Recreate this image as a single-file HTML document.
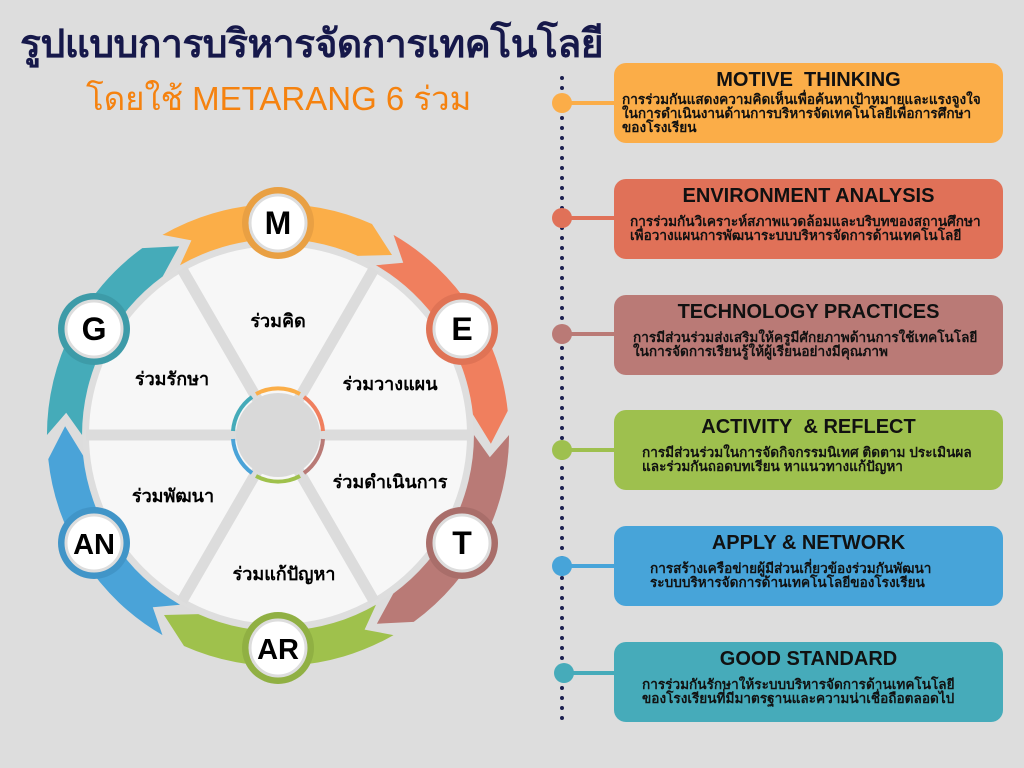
<!DOCTYPE html>
<html><head><meta charset="utf-8"><style>
body{margin:0;width:1024px;height:768px;background:#dddddd;overflow:hidden;font-family:"Liberation Sans","Noto Sans CJK SC",sans-serif;}
.t1{position:absolute;left:20px;top:13px;font-size:39px;font-weight:bold;color:#16184a;white-space:nowrap;letter-spacing:-0.5px}
.t2{position:absolute;left:86px;top:72px;font-size:33px;color:#f5820f;white-space:nowrap;}
.box{position:absolute;left:614px;width:389px;height:80px;border-radius:12px;color:#111;}
.box h3{margin:0;text-align:center;font-size:20px;font-weight:bold;padding-top:6px;line-height:22px}
.box p{margin:2px 0 0 0;font-size:13.6px;font-weight:bold;line-height:14px;white-space:nowrap}
</style></head><body>
<div class="t1">รูปแบบการบริหารจัดการเทคโนโลยี</div>
<div class="t2">โดยใช้ METARANG 6 ร่วม</div>
<svg width="1024" height="768" style="position:absolute;left:0;top:0">
<line x1="562" y1="78" x2="562" y2="720" stroke="#1a1f4f" stroke-width="4" stroke-linecap="round" stroke-dasharray="0 10"/>
<g stroke-width="4">
<line x1="562" y1="103" x2="614" y2="103" stroke="#fbad48"/><circle cx="562" cy="103" r="10" fill="#fbad48" stroke="none"/>
<line x1="562" y1="218" x2="614" y2="218" stroke="#e07158"/><circle cx="562" cy="218" r="10" fill="#e07158" stroke="none"/>
<line x1="562" y1="334" x2="614" y2="334" stroke="#ba7a76"/><circle cx="562" cy="334" r="10" fill="#ba7a76" stroke="none"/>
<line x1="562" y1="450" x2="614" y2="450" stroke="#9ec04e"/><circle cx="562" cy="450" r="10" fill="#9ec04e" stroke="none"/>
<line x1="562" y1="566" x2="614" y2="566" stroke="#47a4d9"/><circle cx="562" cy="566" r="10" fill="#47a4d9" stroke="none"/>
<line x1="564" y1="673" x2="614" y2="673" stroke="#46abba"/><circle cx="564" cy="673" r="10" fill="#46abba" stroke="none"/>
</g>
<g transform="translate(278,435)">
<defs><path id="seg" d="M -115.5 -200.1 A 231 231 0 0 1 94.0 -211.0 L 114 -180 L 79.7 -179.1 A 196 196 0 0 0 -98 -169.7 L -86.6 -194.6 Z"/></defs>
<use href="#seg" fill="#fbae48"/>
<use href="#seg" fill="#f07f5e" transform="rotate(60)"/>
<use href="#seg" fill="#b97a76" transform="rotate(120)"/>
<use href="#seg" fill="#9fc14c" transform="rotate(180)"/>
<use href="#seg" fill="#4aa3d8" transform="rotate(240)"/>
<use href="#seg" fill="#45abb9" transform="rotate(300)"/>
<circle r="192" fill="#f7f7f7" stroke="#dedede" stroke-width="6"/>
<g stroke="#dcdcdc" stroke-width="11">
<line x1="0" y1="0" x2="96" y2="-166"/><line x1="0" y1="0" x2="192" y2="0"/><line x1="0" y1="0" x2="96" y2="166"/>
<line x1="0" y1="0" x2="-96" y2="166"/><line x1="0" y1="0" x2="-192" y2="0"/><line x1="0" y1="0" x2="-96" y2="-166"/>
</g>
<circle r="42" fill="#d9d9d9"/>
<g fill="none" stroke-width="4">
<path d="M -22 -41 A 46 46 0 0 1 22 -41" stroke="#fbae48"/>
<path d="M 26 -38 A 46 46 0 0 1 45 -4" stroke="#f07f5e"/>
<path d="M 45 4 A 46 46 0 0 1 26 38" stroke="#b97a76"/>
<path d="M 22 41 A 46 46 0 0 1 -22 41" stroke="#9fc14c"/>
<path d="M -26 38 A 46 46 0 0 1 -45 4" stroke="#4aa3d8"/>
<path d="M -45 -4 A 46 46 0 0 1 -26 -38" stroke="#45abb9"/>
</g>
<g font-family="Liberation Sans, sans-serif" font-weight="bold" font-size="32" text-anchor="middle">
<g transform="translate(0,-212)"><circle r="36" fill="#e9a043"/><circle r="28" fill="#fff" stroke="#ddd" stroke-width="3"/><text y="11">M</text></g>
<g transform="translate(184,-106)"><circle r="36" fill="#e07355"/><circle r="28" fill="#fff" stroke="#ddd" stroke-width="3"/><text y="11">E</text></g>
<g transform="translate(184,108)"><circle r="36" fill="#a96e6a"/><circle r="28" fill="#fff" stroke="#ddd" stroke-width="3"/><text y="11">T</text></g>
<g transform="translate(0,213)"><circle r="36" fill="#90b043"/><circle r="28" fill="#fff" stroke="#ddd" stroke-width="3"/><text y="11" font-size="29">AR</text></g>
<g transform="translate(-184,108)"><circle r="36" fill="#4195c8"/><circle r="28" fill="#fff" stroke="#ddd" stroke-width="3"/><text y="11" font-size="29">AN</text></g>
<g transform="translate(-184,-106)"><circle r="36" fill="#3d9ba8"/><circle r="28" fill="#fff" stroke="#ddd" stroke-width="3"/><text y="11">G</text></g>
</g>
</g>
<g font-family="Liberation Sans, Noto Sans CJK SC, sans-serif" font-weight="bold" font-size="18" text-anchor="middle" fill="#000">
<text x="278" y="327">ร่วมคิด</text>
<text x="390" y="390">ร่วมวางแผน</text>
<text x="390" y="488">ร่วมดำเนินการ</text>
<text x="284" y="580">ร่วมแก้ปัญหา</text>
<text x="173" y="502">ร่วมพัฒนา</text>
<text x="172" y="385">ร่วมรักษา</text>
</g>
</svg>
<div class="box" style="top:63px;background:#fbad48"><h3>MOTIVE&nbsp; THINKING</h3><p style="padding-left:8px">การร่วมกันแสดงความคิดเห็นเพื่อค้นหาเป้าหมายและแรงจูงใจ<br>ในการดำเนินงานด้านการบริหารจัดเทคโนโลยีเพื่อการศึกษา<br>ของโรงเรียน</p></div>
<div class="box" style="top:179px;background:#e07158"><h3>ENVIRONMENT ANALYSIS</h3><p style="padding-left:16px;margin-top:8px">การร่วมกันวิเคราะห์สภาพแวดล้อมและบริบทของสถานศึกษา<br>เพื่อวางแผนการพัฒนาระบบบริหารจัดการด้านเทคโนโลยี</p></div>
<div class="box" style="top:295px;background:#ba7a76"><h3>TECHNOLOGY PRACTICES</h3><p style="padding-left:19px;margin-top:8px">การมีส่วนร่วมส่งเสริมให้ครูมีศักยภาพด้านการใช้เทคโนโลยี<br>ในการจัดการเรียนรู้ให้ผู้เรียนอย่างมีคุณภาพ</p></div>
<div class="box" style="top:410px;background:#9ec04e"><h3>ACTIVITY&nbsp; &amp; REFLECT</h3><p style="padding-left:28px;margin-top:8px">การมีส่วนร่วมในการจัดกิจกรรมนิเทศ ติดตาม ประเมินผล<br>และร่วมกันถอดบทเรียน หาแนวทางแก้ปัญหา</p></div>
<div class="box" style="top:526px;background:#47a4d9"><h3>APPLY &amp; NETWORK</h3><p style="padding-left:36px;margin-top:8px">การสร้างเครือข่ายผู้มีส่วนเกี่ยวข้องร่วมกันพัฒนา<br>ระบบบริหารจัดการด้านเทคโนโลยีของโรงเรียน</p></div>
<div class="box" style="top:642px;background:#46abba"><h3>GOOD STANDARD</h3><p style="padding-left:28px;margin-top:8px">การร่วมกันรักษาให้ระบบบริหารจัดการด้านเทคโนโลยี<br>ของโรงเรียนที่มีมาตรฐานและความน่าเชื่อถือตลอดไป</p></div>
</body></html>
